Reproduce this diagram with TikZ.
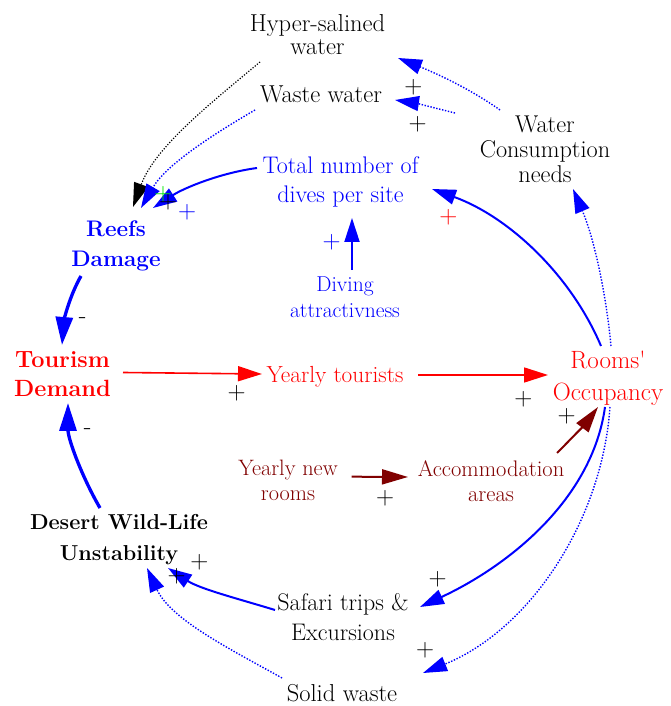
\documentclass[tikz,border=0pt]{standalone}
\usetikzlibrary{arrows.meta}
\definecolor{cldblue}{RGB}{0,0,255}
\definecolor{cldred}{RGB}{255,0,0}
\definecolor{cldmaroon}{RGB}{128,0,0}
\definecolor{cldgreen}{RGB}{0,230,0}
\begin{document}
\begin{tikzpicture}[x=1pt,y=1pt,
  var/.style={align=center, inner sep=0pt},
  fs/.style 2 args={font=\fontsize{#1}{#2}\selectfont},
  bvar/.style 2 args={var, font=\fontsize{#1}{#2}\selectfont\bfseries},
  sign/.style={inner sep=0pt, font=\fontsize{25}{25}\selectfont},
  headtip/.style={-{Triangle[length=24pt,width=15pt]}},
  bigtip/.style={-{Triangle[length=28pt,width=17pt]}},
  blueln/.style={draw=cldblue, line width=2pt, headtip},
  thickln/.style={draw=cldblue, line width=3.3pt, bigtip},
  dotln/.style={draw=cldblue, line width=1.4pt, dash pattern=on 1.4pt off 1.6pt, headtip},
  blackdot/.style={draw=black, line width=1.2pt, dash pattern=on 1.2pt off 1.6pt, headtip},
  redln/.style={draw=cldred, line width=1.6pt, headtip},
  maroonln/.style={draw=cldmaroon, line width=2pt, -{Triangle[length=26pt,width=15pt]}}
]
\useasboundingbox (0,0) rectangle (671,706);

% variables
\node[var, fs={24.5}{23}] (hyper) at (317.5,671) {Hyper-salined\\water};
\node[var, fs={24.5}{24}] (waste) at (321,612) {Waste water};
\node[var, fs={24.3}{25}] (water) at (545,557) {Water\\Consumption\\needs};
\node[var, fs={24}{29}, text=cldblue] (dives) at (340.5,524) {Total number of\\dives per site};
\node[bvar={22.5}{30}, text=cldblue] (reefs) at (116,460.5) {Reefs\\Damage};
\node[var, fs={21.5}{25.6}, text=cldblue] (diving) at (345,409) {Diving\\attractivness};
\node[bvar={23.5}{29}, text=cldred] (tourism) at (62.5,332) {Tourism\\Demand};
\node[var, fs={23.3}{24}, text=cldred] (ytour) at (335,329) {Yearly tourists};
\node[var, fs={25}{32}, text=cldred] (rooms) at (608,327.5) {Rooms\textquotesingle\\Occupancy};
\node[var, fs={22.3}{25}, text=cldmaroon] (ynew) at (288,226) {Yearly new\\rooms};
\node[var, fs={22.5}{25}, text=cldmaroon] (accom) at (491,225) {Accommodation\\areas};
\node[bvar={21.6}{31}] (desert) at (119,166) {Desert Wild-Life\\Unstability};
\node[var, fs={24}{30}] (safari) at (343,89) {Safari trips \&\\Excursions};
\node[var, fs={24.5}{24}] (solid) at (342,13) {Solid waste};

% links into reef damage
\draw[blackdot] ([shift={(-57.5,-27)}]hyper.center) .. controls +(-49,-41) and +(22,60) .. ([shift={(17,38.5)}]reefs.center);
\draw[dotln] ([shift={(-66,-16)}]waste.center) .. controls +(-43,-25) and +(25,43) .. ([shift={(25,37.5)}]reefs.center);
\draw[blueln] ([shift={(-83.5,14)}]dives.center) .. controls +(-37,-5) and +(31,20) .. ([shift={(37,37.5)}]reefs.center);

% water consumption
\draw[dotln] ([shift={(-45,39)}]water.center) .. controls +(-31,22) and +(35,-14) .. ([shift={(80.5,-23)}]hyper.center);
\draw[dotln] ([shift={(-90,36)}]water.center) .. controls +(-20,5) and +(20,-3) .. ([shift={(74,-6)}]waste.center);

% rooms occupancy upward
\draw[blueln] ([shift={(-7,32.5)}]rooms.center) .. controls +(-31,73) and +(75,-27) .. ([shift={(91.5,-7)}]dives.center);
\draw[dotln] ([shift={(3,32.5)}]rooms.center) .. controls +(-5,53) and +(21,-49) .. ([shift={(28,-40)}]water.center);
\draw[blueln] ([shift={(7,27)}]diving.center) -- ([shift={(11.5,-36)}]dives.center);

% tourism demand
\draw[thickln] ([shift={(-35,-30.5)}]reefs.center) .. controls +(-12,-21) and +(2,24) .. ([shift={(-0.5,29)}]tourism.center);
\draw[thickln] ([shift={(-19,32)}]desert.center) .. controls +(-18,31) and +(0,-36) .. ([shift={(5.5,-29)}]tourism.center);

% main chain
\draw[redln] ([shift={(60.5,1.5)}]tourism.center) -- ([shift={(-73,3)}]ytour.center);
\draw[redln] ([shift={(83,2)}]ytour.center) -- ([shift={(-60,3.5)}]rooms.center);
\draw[maroonln] ([shift={(63.7,3.3)}]ynew.center) -- ([shift={(-83,4)}]accom.center);
\draw[maroonln] ([shift={(66,28)}]accom.center) .. controls +(14,14) and +(-12,-16) .. ([shift={(-10,-28.5)}]rooms.center);

% rooms occupancy downward
\draw[blueln] ([shift={(-3,-28.5)}]rooms.center) .. controls +(-13,-94) and +(86,40) .. ([shift={(77,10)}]safari.center);
\draw[dotln] ([shift={(2,-28.5)}]rooms.center) .. controls +(-8,-115) and +(106,43) .. ([shift={(81,20)}]solid.center);

% desert wild-life
\draw[blueln] ([shift={(-68,7)}]safari.center) .. controls +(-36,11) and +(32,-21) .. ([shift={(49,-28)}]desert.center);
\draw[dotln] ([shift={(-60,15)}]solid.center) .. controls +(-50,28) and +(24,-52) .. ([shift={(28,-28)}]desert.center);

% polarity signs
\node[sign] (s1) at (413.3,618.7) {+};
\node[sign] (s2) at (417.7,582) {+};
\node[sign, text=cldgreen] (s3) at (163,512) {+};
\node[sign] (s4) at (168,504) {+};
\node[sign, text=cldblue] (s5) at (187,494) {+};
\node[sign, text=cldred] (s6) at (448.3,488.7) {+};
\node[sign, text=cldblue] (s7) at (331.7,463.7) {+};
\node[sign] (s8) at (82.7,385) {-};
\node[sign] (s9) at (87.7,274.3) {-};
\node[sign] (s10) at (236.7,312.7) {+};
\node[sign] (s11) at (523.3,307) {+};
\node[sign] (s12) at (566.7,289.3) {+};
\node[sign] (s13) at (385,207.7) {+};
\node[sign] (s14) at (437.7,127) {+};
\node[sign] (s15) at (425,55.3) {+};
\node[sign] (s16) at (199.3,143.3) {+};
\node[sign] (s17) at (176.7,130) {+};
\end{tikzpicture}
\end{document}
